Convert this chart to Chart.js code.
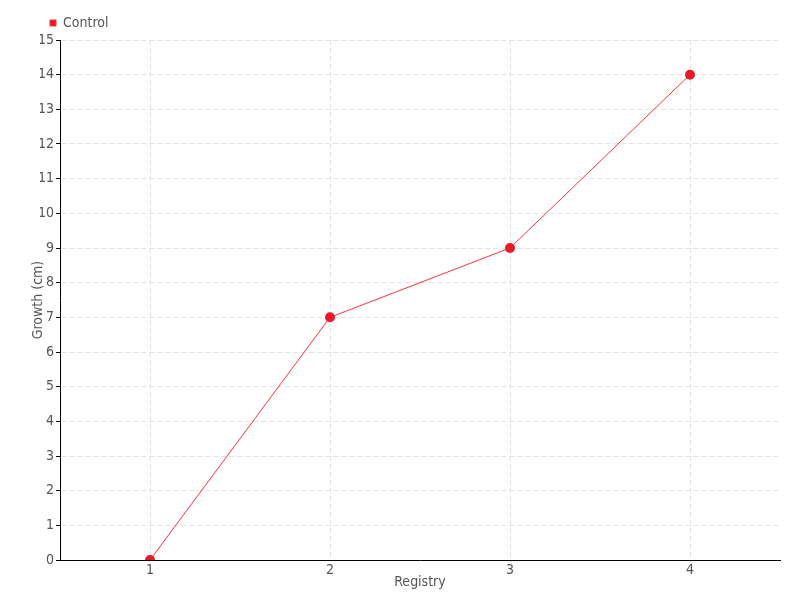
<!DOCTYPE html>
<html>
<head>
<meta charset="utf-8">
<script src="https://cdn.jsdelivr.net/npm/chart.js@4/dist/chart.umd.min.js"></script>
<style>
  html, body { margin: 0; padding: 0; background: #fff; }
  #wrap { width: 800px; height: 600px; }
</style>
</head>
<body>
<div id="wrap"><canvas id="chart" width="800" height="600"></canvas></div>
<script>
const registry = ["1", "2", "3", "4"];
const controlGrowth = [0, 7, 9, 14];
const seriesName = "Control";

const red = "rgb(232,26,40)";
const lineRed = "rgb(250,50,62)";
const textColor = "#555";
const fontFamily = "'Liberation Sans Narrow', 'DejaVu Sans Condensed', 'Roboto', sans-serif";

Chart.defaults.font.family = fontFamily;
Chart.defaults.font.size = 14;
Chart.defaults.color = textColor;

const ctx = document.getElementById("chart").getContext("2d");

const chart = new Chart(ctx, {
  type: "line",
  data: {
    labels: registry,
    datasets: [
      {
        label: seriesName,
        data: controlGrowth,
        borderColor: lineRed,
        backgroundColor: red,
        borderWidth: 1,
        pointRadius: 5,
        pointBackgroundColor: red,
        pointBorderWidth: 0,
        tension: 0
      }
    ]
  },
  options: {
    responsive: false,
    animation: false,
    layout: {
      padding: { left: 40, right: 20, top: 6, bottom: 0 }
    },
    plugins: {
      legend: {
        position: "top",
        align: "start",
        labels: {
          boxWidth: 6,
          boxHeight: 6,
          padding: 10,
          color: textColor
        }
      },
      tooltip: { enabled: false }
    },
    scales: {
      x: {
        offset: true,
        grid: {
          color: "#e2e2e2",
          drawTicks: false,
          offset: false
        },
        border: { color: "#000", width: 1, dash: [5, 3] },
        ticks: { padding: 2, color: textColor },
        title: {
          display: true,
          text: "Registry",
          color: textColor,
          padding: { top: 0, bottom: 9 }
        },
        afterFit: scale => { scale.height = 40; }
      },
      y: {
        min: 0,
        max: 15,
        grid: {
          color: "#e2e2e2",
          tickColor: "#000",
          tickLength: 4
        },
        border: { color: "#000", width: 1, dash: [5, 3] },
        ticks: { stepSize: 1, padding: 2, color: textColor },
        title: {
          display: true,
          text: "Growth (cm)",
          color: textColor,
          padding: { top: -10, bottom: 0 }
        },
        afterFit: scale => { scale.width = 20; }
      }
    }
  }
});
</script>
</body>
</html>
